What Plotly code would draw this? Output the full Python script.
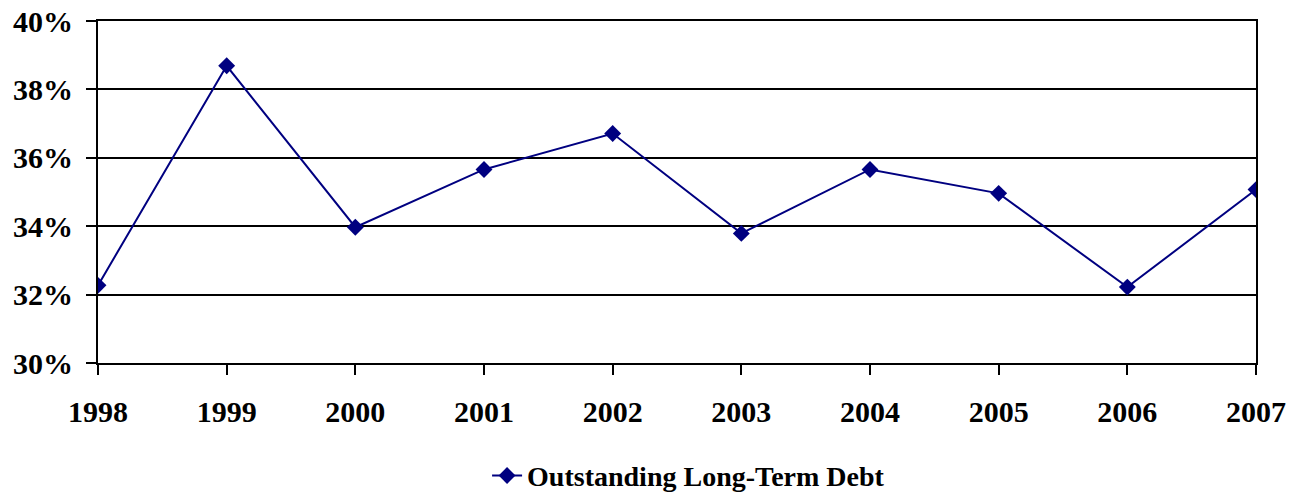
import plotly.graph_objects as go

years = [1998, 1999, 2000, 2001, 2002, 2003, 2004, 2005, 2006, 2007]
debt_pct = [32.27, 38.69, 33.97, 35.66, 36.71, 33.79, 35.66, 34.96, 32.22, 35.07]
y_ticks = [30, 32, 34, 36, 38, 40]
series_name = "Outstanding Long-Term Debt"

font_family = "Liberation Serif, Times New Roman, serif"

fig = go.Figure()
fig.add_trace(go.Scatter(
    x=years, y=debt_pct, mode="lines+markers", name=series_name,
    line=dict(color="#000080", width=2),
    marker=dict(symbol="diamond", size=13, color="#000080"),
    showlegend=True,
))

fig.update_layout(
    width=1300, height=494,
    margin=dict(l=98, r=44, t=21, b=131, autoexpand=False),
    paper_bgcolor="white", plot_bgcolor="white",
    font=dict(family=font_family, color="black"),
    showlegend=True,
    legend=dict(orientation="h", x=0.51, xanchor="center", y=-0.33, yanchor="middle",
                font=dict(size=28, family=font_family, color="black", weight="bold")),
)
fig.update_xaxes(
    range=[1998, 2007], tickmode="array", tickvals=years, ticktext=[str(y) for y in years],
    showgrid=False, showline=True, linecolor="black", linewidth=2, mirror=True,
    ticks="outside", ticklen=10, tickwidth=2, tickcolor="black",
    tickfont=dict(size=30, family=font_family, color="black", weight="bold"),
    ticklabelstandoff=11, automargin=False,
    zeroline=False,
)
fig.update_yaxes(
    range=[30, 40], tickmode="array", tickvals=y_ticks, ticktext=[f"{v}%" for v in y_ticks],
    showgrid=True, gridcolor="black", gridwidth=2,
    showline=True, linecolor="black", linewidth=2, mirror=True,
    ticks="outside", ticklen=10, tickwidth=2, tickcolor="black",
    tickfont=dict(size=30, family=font_family, color="black", weight="bold"),
    ticklabelstandoff=7, automargin=False,
    zeroline=False,
)

fig.write_html(
    "out.html",
    config={"displayModeBar": False},
    post_script="document.body.style.margin='0';document.body.style.overflow='hidden';",
)
